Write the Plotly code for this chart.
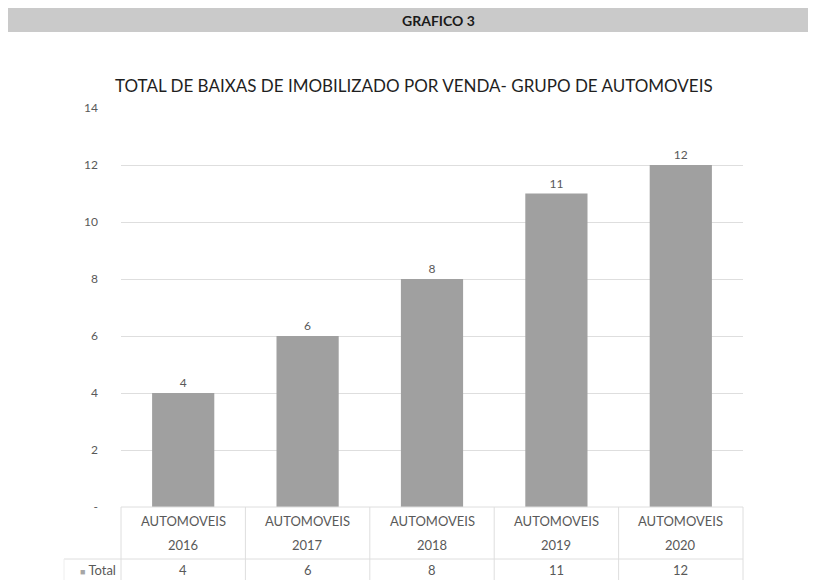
import plotly.graph_objects as go

categories = ["2016", "2017", "2018", "2019", "2020"]
group_label = "AUTOMOVEIS"
values = [4, 6, 8, 11, 12]
y_tickvals = [0, 2, 4, 6, 8, 10, 12, 14]
y_ticktext = ["-", "2", "4", "6", "8", "10", "12", "14"]
header_text = "GRAFICO 3"
chart_title = "TOTAL DE BAIXAS DE IMOBILIZADO POR VENDA- GRUPO DE AUTOMOVEIS"
series_name = "Total"

OFF = 8  # default page body margin
W, H = 808, 574
L, T = 121 - OFF, 108 - OFF
R = W - (743 - OFF)
B = H - (507 - OFF)
pw = W - L - R
ph = H - T - B

def px_x(px):
    return (px - OFF - L) / pw

def px_y(py):
    return (H - B - (py - OFF)) / ph

font = "Lato"
txt_col = "#595959"
grid_col = "#dedede"

fig = go.Figure()
fig.add_trace(go.Bar(
    x=categories, y=values,
    marker=dict(color="#a0a0a0", line=dict(width=0)),
    width=0.5,
    text=[str(v) for v in values], textposition="outside",
    textfont=dict(family=font, size=12, color=txt_col),
    cliponaxis=False, name=series_name,
))

shapes = []
annotations = []

# header bar
shapes.append(dict(type="rect", xref="paper", yref="paper",
                   x0=px_x(OFF), x1=px_x(811), y0=px_y(32), y1=px_y(8),
                   fillcolor="#cacaca", line=dict(width=0), layer="below"))
annotations.append(dict(text="<b>" + header_text + "</b>", xref="paper", yref="paper",
                        x=px_x(438), y=px_y(20), showarrow=False,
                        font=dict(family=font, size=14, color="#1a1a1a"),
                        xanchor="center", yanchor="middle"))
annotations.append(dict(text=chart_title, xref="paper", yref="paper",
                        x=px_x(414), y=px_y(86), showarrow=False,
                        font=dict(family=font, size=17, color="#1f1f1f"),
                        xanchor="center", yanchor="middle"))

# data table
n = len(categories)
tbl_bottom = px_y(580)
row_split = px_y(559)
for i in range(n + 1):
    xp = i / n
    shapes.append(dict(type="line", xref="paper", yref="paper",
                       x0=xp, x1=xp, y0=0, y1=tbl_bottom,
                       line=dict(color=grid_col, width=1)))
shapes.append(dict(type="line", xref="paper", yref="paper",
                   x0=px_x(64), x1=1, y0=row_split, y1=row_split,
                   line=dict(color=grid_col, width=1)))
shapes.append(dict(type="line", xref="paper", yref="paper",
                   x0=0, x1=1, y0=0, y1=0,
                   line=dict(color=grid_col, width=1)))
shapes.append(dict(type="line", xref="paper", yref="paper",
                   x0=px_x(64), x1=px_x(64), y0=row_split, y1=tbl_bottom,
                   line=dict(color="#eeeeee", width=1)))

tbl_font = dict(family=font, size=13, color=txt_col)
for i, (cat, v) in enumerate(zip(categories, values)):
    xc = (i + 0.5) / n
    annotations.append(dict(text=group_label, x=xc, xref="paper", yref="paper", y=0,
                            yshift=-14, showarrow=False, xanchor="center",
                            yanchor="middle", font=tbl_font))
    annotations.append(dict(text=cat, x=xc, xref="paper", yref="paper", y=0,
                            yshift=-38, showarrow=False, xanchor="center",
                            yanchor="middle", font=tbl_font))
    annotations.append(dict(text=str(v), x=xc, xref="paper", yref="paper", y=0,
                            yshift=-63, showarrow=False, xanchor="center",
                            yanchor="middle", font=tbl_font))
annotations.append(dict(text="<span style='color:#a6a6a6;font-size:9px'>■</span> " + series_name,
                        xref="paper", yref="paper", x=px_x(118), y=px_y(570),
                        showarrow=False, xanchor="right", yanchor="middle",
                        font=tbl_font))

fig.update_layout(
    width=W, height=H,
    margin=dict(l=L, r=R, t=T, b=B, autoexpand=False),
    paper_bgcolor="white", plot_bgcolor="white",
    showlegend=False, bargap=0.5,
    shapes=shapes, annotations=annotations,
    xaxis=dict(type="category", range=[-0.5, n - 0.5], showticklabels=False,
               showgrid=False, zeroline=False, showline=False, ticks=""),
    yaxis=dict(range=[0, 14], tickvals=y_tickvals, ticktext=y_ticktext,
               showgrid=True, gridcolor=grid_col, gridwidth=1, zeroline=False,
               showline=False, ticks="", ticklabelstandoff=22,
               tickfont=dict(family=font, size=12, color=txt_col)),
)

fig.write_html("out.html")
